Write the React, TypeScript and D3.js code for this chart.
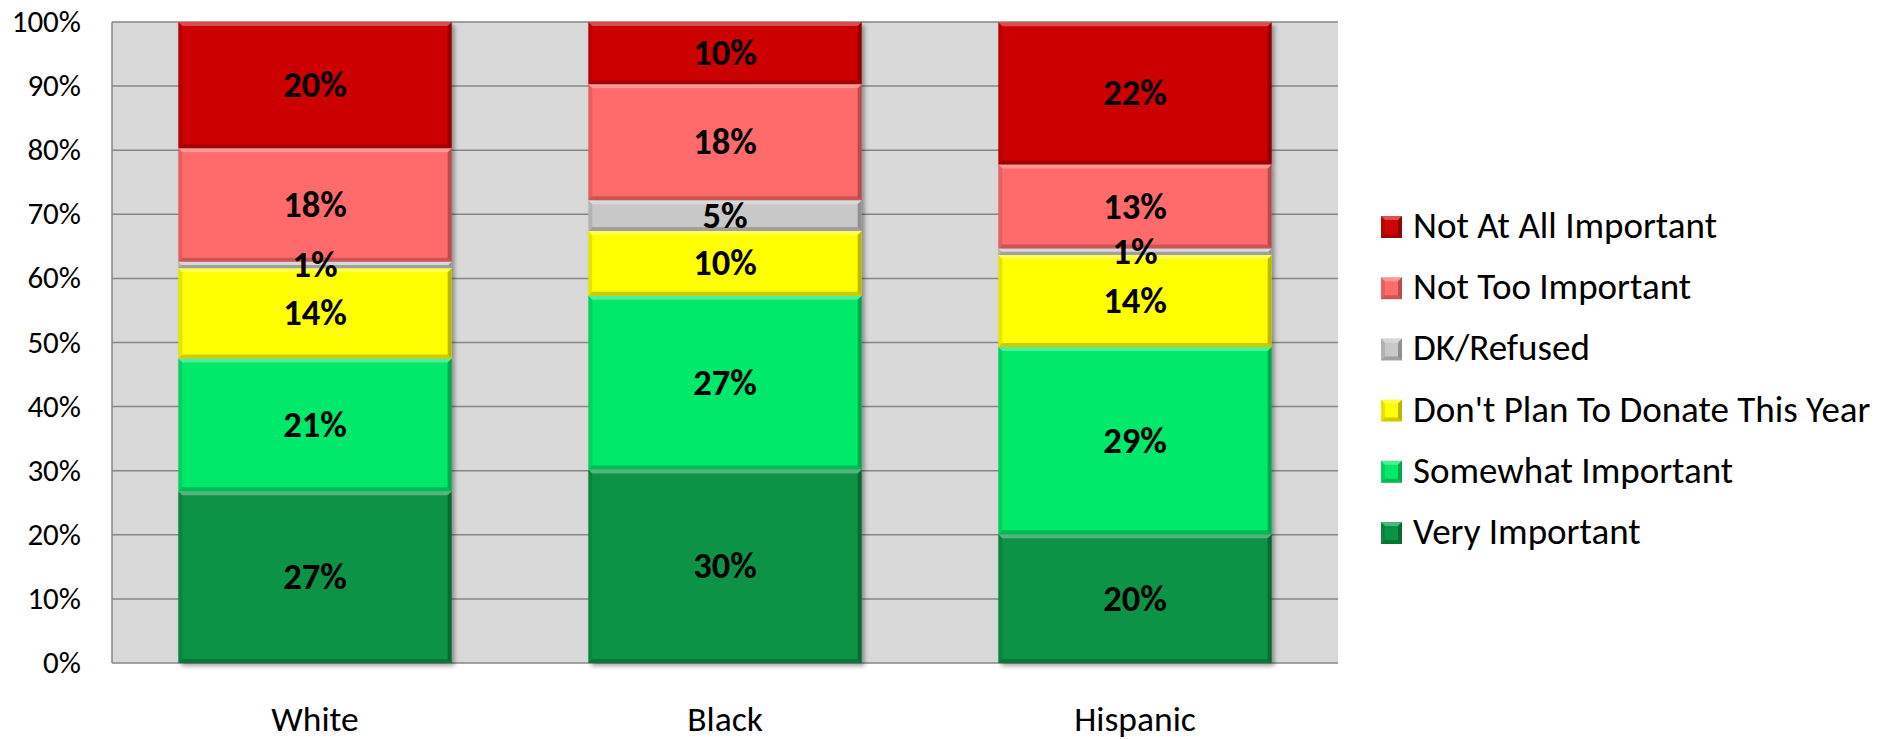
import React from "react";
import * as d3 from "d3";

const categories = ["White", "Black", "Hispanic"];
const seriesNames = [
  "Very Important",
  "Somewhat Important",
  "Don't Plan To Donate This Year",
  "DK/Refused",
  "Not Too Important",
  "Not At All Important",
];
const veryImportant = [26.8, 30.2, 20.1];
const somewhatImportant = [20.7, 27.1, 29.2];
const dontPlan = [14.1, 10.1, 14.35];
const dkRefused = [1.0, 4.8, 1.0];
const notTooImportant = [17.7, 18.1, 13.1];
const notAtAllImportant = [19.7, 9.7, 22.2];
const seriesColors = ["#0A9344", "#05E96A", "#FFFF00", "#C8C8C8", "#FF6B6B", "#CC0606"];
const yTicks = [0, 10, 20, 30, 40, 50, 60, 70, 80, 90, 100];

const W = 1881;
const H = 739;
const FONT = "Carlito, Calibri, Lato, sans-serif";

export default function App() {
  const seriesValues = [veryImportant, somewhatImportant, dontPlan, dkRefused, notTooImportant, notAtAllImportant];
  const rows = categories.map((c, i) => {
    const r: any = { cat: c };
    seriesNames.forEach((s, j) => (r[s] = seriesValues[j][i]));
    return r;
  });
  const stacked = d3.stack<any>().keys(seriesNames)(rows);

  const plotL = 112, plotR = 1338, plotT = 22, plotB = 663;
  const x = d3.scaleBand().domain(categories).range([plotL - 2, plotR + 2]).paddingInner(1 / 3).paddingOuter(1 / 6);
  const y = d3.scaleLinear().domain([0, 100]).range([plotB, plotT]);

  const bevel = (x0: number, y0: number, x1: number, y1: number, k: string) => {
    const b = Math.min(4, (y1 - y0) / 2);
    return (
      <g key={k}>
        <polygon points={`${x0},${y0} ${x1},${y0} ${x1 - b},${y0 + b} ${x0 + b},${y0 + b}`} fill="#fff" opacity={0.3} />
        <polygon points={`${x0},${y0} ${x0 + b},${y0 + b} ${x0 + b},${y1 - b} ${x0},${y1}`} fill="#000" opacity={0.1} />
        <polygon points={`${x1},${y0} ${x1},${y1} ${x1 - b},${y1 - b} ${x1 - b},${y0 + b}`} fill="#000" opacity={0.28} />
        <polygon points={`${x0},${y1} ${x1},${y1} ${x1 - b},${y1 - b} ${x0 + b},${y1 - b}`} fill="#000" opacity={0.2} />
      </g>
    );
  };

  const legendOrder = [5, 4, 3, 2, 1, 0];
  const legendBaseline0 = 238;
  const legendStep = 61.2;

  return (
    <svg width={W} height={H} style={{ position: "absolute", left: 0, top: 0, background: "#fff" }} fontFamily={FONT}>
      <defs>
        <filter id="shadow" x="-10%" y="-10%" width="130%" height="130%">
          <feDropShadow dx="3" dy="3" stdDeviation="2" floodColor="#000" floodOpacity="0.35" />
        </filter>
      </defs>
      <rect x={plotL} y={plotT} width={plotR - plotL} height={plotB - plotT} fill="#D9D9D9" />
      {yTicks.map((t) => (
        <line key={t} x1={plotL} x2={plotR} y1={y(t)} y2={y(t)} stroke="#868686" strokeWidth={1.5} />
      ))}
      <line x1={plotL} x2={plotL} y1={plotT} y2={plotB} stroke="#868686" strokeWidth={1.5} />
      {yTicks.map((t) => (
        <text key={t} x={81} y={y(t) + 10} textAnchor="end" fontSize={31} fill="#000">
          {t}%
        </text>
      ))}
      <g filter="url(#shadow)">
        {stacked.map((s, si) =>
          s.map((d, ci) => {
            const x0 = x(categories[ci])!;
            const x1 = x0 + x.bandwidth();
            const y0 = y(d[1]);
            const y1 = y(d[0]);
            return <rect key={`${si}-${ci}`} x={x0} y={y0} width={x1 - x0} height={y1 - y0} fill={seriesColors[si]} />;
          })
        )}
      </g>
      {stacked.map((s, si) =>
        s.map((d, ci) => {
          const x0 = x(categories[ci])!;
          const x1 = x0 + x.bandwidth();
          return bevel(x0, y(d[1]), x1, y(d[0]), `b${si}-${ci}`);
        })
      )}
      {stacked.map((s, si) =>
        s.map((d, ci) => {
          const cx = x(categories[ci])! + x.bandwidth() / 2;
          const cy = (y(d[0]) + y(d[1])) / 2;
          return (
            <text key={`l${si}-${ci}`} x={cx} y={cy + 12} textAnchor="middle" fontSize={36.5} fontWeight="bold" fill="#000">
              {Math.round(seriesValues[si][ci])}%
            </text>
          );
        })
      )}
      {categories.map((c) => (
        <text key={c} x={x(c)! + x.bandwidth() / 2} y={731} textAnchor="middle" fontSize={35.5} fill="#000">
          {c}
        </text>
      ))}
      {legendOrder.map((si, i) => {
        const by = legendBaseline0 + i * legendStep;
        const sx = 1381, sy = by - 22, sw = 21, sh = 22;
        return (
          <g key={seriesNames[si]}>
            <rect x={sx} y={sy} width={sw} height={sh} fill={seriesColors[si]} />
            {bevel(sx, sy, sx + sw, sy + sh, `lg${si}`)}
            <text x={1413} y={by} fontSize={37} fill="#000">
              {seriesNames[si]}
            </text>
          </g>
        );
      })}
    </svg>
  );
}
